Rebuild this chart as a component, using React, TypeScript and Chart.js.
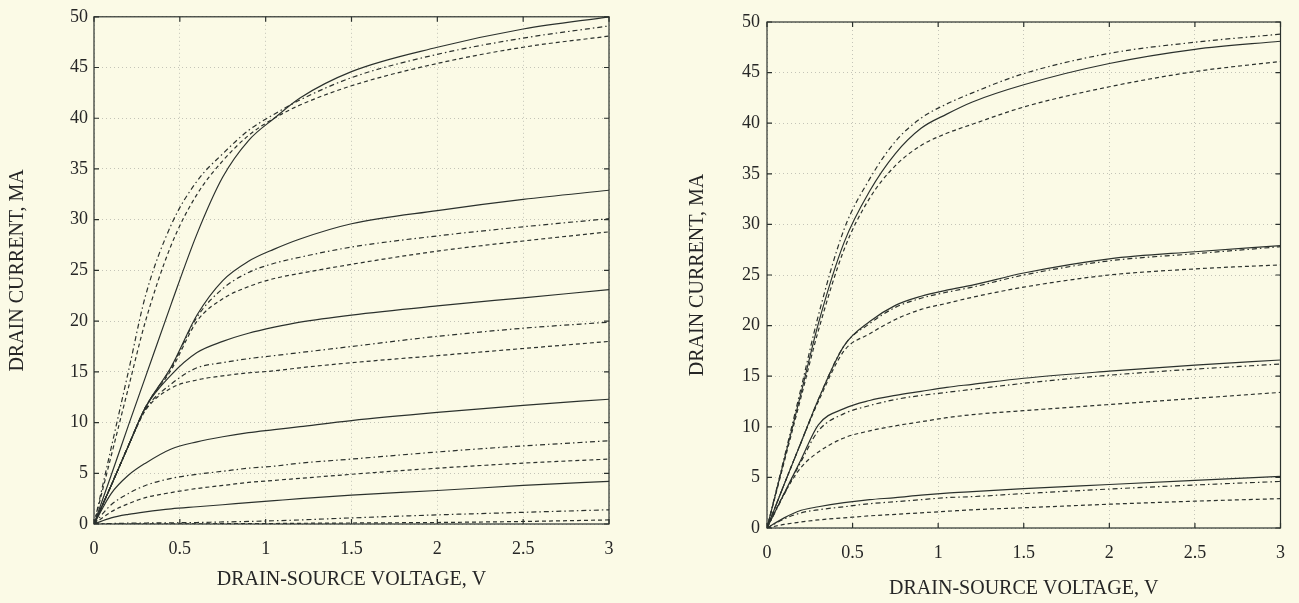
import React, { useEffect, useRef } from "react";
import { Chart, registerables } from "chart.js";

Chart.register(...registerables);

// ---------- data ----------
const VDS = [0, 0.1, 0.2, 0.3, 0.45, 0.6, 0.75, 0.9, 1.05, 1.2, 1.5, 2, 2.5, 3];
const X_TICKS = [0, 0.5, 1, 1.5, 2, 2.5, 3];
const Y_TICKS = [0, 5, 10, 15, 20, 25, 30, 35, 40, 45, 50];

const X_TITLE = "DRAIN-SOURCE VOLTAGE, V";
const Y_TITLE = "DRAIN CURRENT, MA";

// left panel
const L1_solid = [0, 4.8, 9.7, 14.5, 21.7, 28.6, 34.2, 37.8, 40.0, 42.0, 44.6, 47.0, 48.8, 50.0];
const L1_dashdot = [0, 7.5, 15.0, 22.5, 29.5, 33.8, 36.5, 38.8, 40.4, 41.8, 44.0, 46.3, 47.9, 49.1];
const L1_dashed = [0, 6.7, 13.4, 20.0, 27.5, 32.5, 35.8, 38.3, 40.0, 41.3, 43.2, 45.4, 47.0, 48.1];

const L2_solid = [0, 3.8, 7.7, 11.5, 15.5, 20.6, 24.0, 25.9, 27.1, 28.1, 29.6, 30.9, 32.0, 32.9];
const L2_dashdot = [0, 3.8, 7.7, 11.5, 15.4, 20.4, 23.2, 24.8, 25.7, 26.3, 27.3, 28.4, 29.3, 30.1];
const L2_dashed = [0, 3.8, 7.7, 11.5, 15.2, 20.0, 22.2, 23.4, 24.2, 24.7, 25.6, 26.9, 27.9, 28.8];

const L3_solid = [0, 3.8, 7.7, 11.5, 14.7, 16.9, 18.0, 18.8, 19.4, 19.9, 20.6, 21.5, 22.3, 23.1];
const L3_dashdot = [0, 3.8, 7.7, 11.3, 13.8, 15.4, 15.9, 16.3, 16.6, 16.9, 17.5, 18.5, 19.3, 19.9];
const L3_dashed = [0, 3.8, 7.7, 11.2, 13.4, 14.2, 14.6, 14.9, 15.1, 15.4, 15.9, 16.6, 17.3, 18.0];

const L4_solid = [0, 3.0, 4.8, 6.0, 7.4, 8.1, 8.6, 9.0, 9.3, 9.6, 10.2, 11.0, 11.7, 12.3];
const L4_dashdot = [0, 1.9, 3.0, 3.8, 4.5, 4.9, 5.2, 5.5, 5.7, 6.0, 6.4, 7.1, 7.7, 8.2];
const L4_dashed = [0, 1.2, 2.0, 2.6, 3.1, 3.5, 3.8, 4.1, 4.3, 4.5, 4.9, 5.5, 6.0, 6.4];

const L5_solid = [0, 0.6, 0.95, 1.2, 1.5, 1.7, 1.9, 2.1, 2.3, 2.5, 2.85, 3.3, 3.8, 4.2];
const L5_dashdot = [0, 0.05, 0.08, 0.1, 0.12, 0.15, 0.2, 0.25, 0.32, 0.4, 0.6, 0.9, 1.15, 1.4];
const L5_dashed = [0, 0, 0, 0.01, 0.01, 0.02, 0.03, 0.04, 0.05, 0.07, 0.1, 0.15, 0.25, 0.4];

// right panel
const R1_solid = [0, 6.7, 13.4, 20.2, 28.2, 33.3, 37.0, 39.5, 40.9, 42.1, 43.8, 45.9, 47.3, 48.1];
const R1_dashdot = [0, 6.9, 13.9, 21.0, 29.5, 34.5, 38.2, 40.5, 41.9, 43.0, 44.9, 46.9, 48.0, 48.8];
const R1_dashed = [0, 6.5, 13.0, 19.5, 27.5, 32.6, 35.8, 37.8, 39.0, 39.9, 41.6, 43.6, 45.1, 46.1];

const R2_solid = [0, 4.3, 8.5, 12.7, 18.0, 20.4, 22.0, 22.9, 23.5, 24.0, 25.2, 26.6, 27.3, 27.9];
const R2_dashdot = [0, 4.3, 8.5, 12.7, 18.0, 20.2, 21.8, 22.7, 23.3, 23.8, 25.0, 26.4, 27.1, 27.8];
const R2_dashed = [0, 4.3, 8.5, 12.5, 17.5, 19.2, 20.6, 21.6, 22.2, 22.8, 23.8, 25.0, 25.6, 26.0];

const R3_solid = [0, 3.4, 6.8, 10.2, 11.8, 12.6, 13.1, 13.5, 13.9, 14.2, 14.8, 15.5, 16.1, 16.6];
const R3_dashdot = [0, 3.3, 6.6, 9.6, 11.3, 12.1, 12.7, 13.1, 13.4, 13.7, 14.3, 15.1, 15.7, 16.2];
const R3_dashed = [0, 3.4, 6.0, 7.5, 8.9, 9.6, 10.1, 10.5, 10.9, 11.2, 11.6, 12.2, 12.8, 13.4];

const R4_solid = [0, 1.0, 1.75, 2.1, 2.5, 2.8, 3.0, 3.25, 3.45, 3.6, 3.9, 4.3, 4.7, 5.1];
const R4_dashdot = [0, 0.9, 1.5, 1.8, 2.1, 2.4, 2.6, 2.8, 3.0, 3.1, 3.4, 3.85, 4.25, 4.6];
const R4_dashed = [0, 0.35, 0.6, 0.8, 1.0, 1.2, 1.35, 1.5, 1.65, 1.8, 2.0, 2.35, 2.65, 2.9];

const LEFT_SERIES: [number[], string][] = [
  [L1_solid, "solid"], [L1_dashdot, "dashdot"], [L1_dashed, "dashed"],
  [L2_solid, "solid"], [L2_dashdot, "dashdot"], [L2_dashed, "dashed"],
  [L3_solid, "solid"], [L3_dashdot, "dashdot"], [L3_dashed, "dashed"],
  [L4_solid, "solid"], [L4_dashdot, "dashdot"], [L4_dashed, "dashed"],
  [L5_solid, "solid"], [L5_dashdot, "dashdot"], [L5_dashed, "dashed"],
];
const RIGHT_SERIES: [number[], string][] = [
  [R1_solid, "solid"], [R1_dashdot, "dashdot"], [R1_dashed, "dashed"],
  [R2_solid, "solid"], [R2_dashdot, "dashdot"], [R2_dashed, "dashed"],
  [R3_solid, "solid"], [R3_dashdot, "dashdot"], [R3_dashed, "dashed"],
  [R4_solid, "solid"], [R4_dashdot, "dashdot"], [R4_dashed, "dashed"],
];

// ---------- styling ----------
const BG = "#fbfae6";
const INK = "#2b312d";
const TEXT = "#262626";
const GRID = "#c4c4b8";
const SERIF = "'Liberation Serif', 'Times New Roman', serif";
const DASHES: Record<string, number[]> = {
  solid: [],
  dashed: [4, 3],
  dashdot: [5, 3, 1.5, 3],
};

const framePlugin = {
  id: "frameTicks",
  afterDatasetsDraw(chart: any) {
    const { ctx, chartArea: a, scales } = chart;
    const xs = scales.x;
    const ys = scales.y;
    const len = 5;
    ctx.save();
    ctx.strokeStyle = INK;
    ctx.lineWidth = 1.2;
    ctx.setLineDash([]);
    ctx.strokeRect(a.left, a.top, a.right - a.left, a.bottom - a.top);
    ctx.beginPath();
    for (const v of Y_TICKS) {
      const py = ys.getPixelForValue(v);
      ctx.moveTo(a.left, py);
      ctx.lineTo(a.left + len, py);
      ctx.moveTo(a.right, py);
      ctx.lineTo(a.right - len, py);
    }
    for (const v of X_TICKS) {
      const px = xs.getPixelForValue(v);
      ctx.moveTo(px, a.bottom);
      ctx.lineTo(px, a.bottom - len);
      ctx.moveTo(px, a.top);
      ctx.lineTo(px, a.top + len);
    }
    ctx.stroke();
    ctx.restore();
  },
};

type PanelProps = {
  series: [number[], string][];
  left: number;
  width: number;
  pad: { top: number; right: number };
  yAxisWidth: number;
  xAxisHeight: number;
  yTickPad: number;
  xTickPad: number;
  xTitleBottom: number;
};

function Panel(p: PanelProps) {
  const ref = useRef<HTMLCanvasElement | null>(null);
  useEffect(() => {
    if (!ref.current) return;
    const datasets = p.series.map(([vals, style]) => ({
      data: VDS.map((x, i) => ({ x, y: vals[i] })),
      borderColor: INK,
      borderWidth: 1.2,
      borderDash: DASHES[style],
      pointRadius: 0,
      fill: false,
      cubicInterpolationMode: "monotone" as const,
    }));
    const chart = new Chart(ref.current, {
      type: "line",
      data: { datasets },
      options: {
        animation: false,
        responsive: false,
        maintainAspectRatio: false,
        events: [],
        layout: { padding: { left: 0, top: p.pad.top, right: p.pad.right, bottom: 0 } },
        plugins: { legend: { display: false }, tooltip: { enabled: false } },
        scales: {
          x: {
            type: "linear",
            min: 0,
            max: 3,
            afterBuildTicks: (s: any) => {
              s.ticks = X_TICKS.map((v) => ({ value: v }));
            },
            afterFit: (s: any) => {
              s.height = p.xAxisHeight;
            },
            ticks: {
              autoSkip: false,
              maxRotation: 0,
              padding: p.xTickPad,
              color: TEXT,
              font: { family: SERIF, size: 18 },
              callback: (v: any) => String(v),
            },
            grid: { color: GRID, lineWidth: 1, drawTicks: false, borderDash: [1, 3] } as any,
            border: { display: false, dash: [1, 3] },
            title: {
              display: true,
              text: X_TITLE,
              color: TEXT,
              font: { family: SERIF, size: 20 },
              padding: { top: 0, bottom: p.xTitleBottom },
            },
          },
          y: {
            type: "linear",
            min: 0,
            max: 50,
            afterBuildTicks: (s: any) => {
              s.ticks = Y_TICKS.map((v) => ({ value: v }));
            },
            afterFit: (s: any) => {
              s.width = p.yAxisWidth;
            },
            ticks: {
              autoSkip: false,
              padding: p.yTickPad,
              color: TEXT,
              font: { family: SERIF, size: 18 },
              callback: (v: any) => String(v),
            },
            grid: { color: GRID, lineWidth: 1, drawTicks: false, borderDash: [1, 3] } as any,
            border: { display: false, dash: [1, 3] },
            title: {
              display: true,
              text: Y_TITLE,
              color: TEXT,
              font: { family: SERIF, size: 20 },
              padding: { top: 6, bottom: 0 },
            },
          },
        },
      },
      plugins: [framePlugin],
    });
    return () => chart.destroy();
  }, []);
  return (
    <canvas
      ref={ref}
      width={p.width}
      height={603}
      style={{ position: "absolute", left: p.left, top: 0, width: p.width, height: 603 }}
    />
  );
}

export default function App() {
  return (
    <div
      style={{
        position: "fixed",
        left: 0,
        top: 0,
        width: 1299,
        height: 603,
        background: BG,
        overflow: "hidden",
      }}
    >
      <Panel
        series={LEFT_SERIES}
        left={0}
        width={650}
        pad={{ top: 15, right: 41 }}
        yAxisWidth={94}
        xAxisHeight={79}
        yTickPad={6}
        xTickPad={14}
        xTitleBottom={11}
      />
      <Panel
        series={RIGHT_SERIES}
        left={680}
        width={619}
        pad={{ top: 22, right: 16 }}
        yAxisWidth={87}
        xAxisHeight={75}
        yTickPad={7}
        xTickPad={14}
        xTitleBottom={2}
      />
    </div>
  );
}
